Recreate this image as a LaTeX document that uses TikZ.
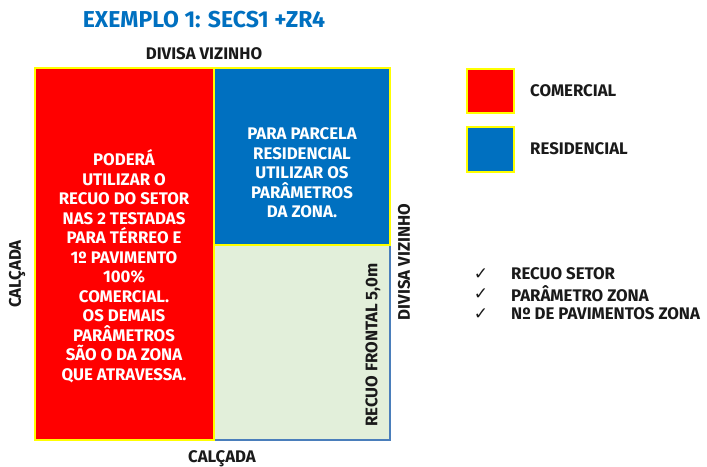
\documentclass[tikz,border=0pt]{standalone}
\usepackage{fontspec}
\setmainfont{Fira Sans}
\newfontfamily\symfont{DejaVu Sans}
\definecolor{cred}{RGB}{255,0,0}
\definecolor{cblue}{RGB}{0,112,192}
\definecolor{cyel}{RGB}{255,255,0}
\definecolor{cgreen}{RGB}{226,239,218}
\definecolor{cedge}{RGB}{74,126,187}
\definecolor{ctitle}{RGB}{0,112,192}
\definecolor{ctext}{RGB}{26,26,26}
\begin{document}
\begin{tikzpicture}[x=1pt,y=-1pt,
  lbl/.style={font=\fontsize{16.8}{19.5}\selectfont\bfseries, text=ctext, inner sep=0pt},
  inbox/.style={font=\fontsize{16.8}{19.5}\selectfont\bfseries, text=white, align=center, inner sep=0pt},
  zone/.style={draw=cyel, line width=2pt}]
\useasboundingbox (0,0) rectangle (707,466);
% green base
\fill[cgreen] (35,245) rectangle (390,440);
\draw[cedge, line width=2pt] (214,440) -- (390,440) -- (390,245);
% red
\draw[zone, fill=cred] (35,68) rectangle (214,440);
% blue
\draw[zone, fill=cblue] (214,68) rectangle (390,245);
% texts
\node[font=\fontsize{23}{26}\selectfont\bfseries, text=ctitle, inner sep=0pt] (title) at (204,20) {EXEMPLO 1: SECS1 +ZR4};
\node[lbl] (top) at (204,54) {DIVISA VIZINHO};
\node[lbl] (bot) at (222,459) {CALÇADA};
\node[lbl, rotate=90] (left) at (17,274) {CALÇADA};
\node[lbl, rotate=90] (right) at (404,262) {DIVISA VIZINHO};
\node[lbl, rotate=90] (recuo) at (373,345) {RECUO FRONTAL 5,0m};
\node[inbox] (redtxt) at (124,266) {PODERÁ\\UTILIZAR O\\RECUO DO SETOR\\NAS 2 TESTADAS\\PARA TÉRREO E\\1º PAVIMENTO\\100\%\\COMERCIAL.\\OS DEMAIS\\PARÂMETROS\\SÃO O DA ZONA\\QUE ATRAVESSA.};
\node[inbox] (bluetxt) at (302,173) {PARA PARCELA\\RESIDENCIAL\\UTILIZAR OS\\PARÂMETROS\\DA ZONA.};
% legend
\draw[zone, fill=cred] (467,69) rectangle (514,113);
\node[lbl, anchor=west] (lc) at (530,91) {COMERCIAL};
\draw[zone, fill=cblue] (467,127) rectangle (514,172);
\node[lbl, anchor=west] (lr) at (530,149) {RESIDENCIAL};
% check list
\foreach \yy/\tt in {274/RECUO SETOR, 294/PARÂMETRO ZONA, 314/Nº DE PAVIMENTOS ZONA}{
  \node[font=\fontsize{17}{17}\selectfont\symfont, text=ctext, inner sep=0pt] at (481,\yy) {✓};
  \node[lbl, anchor=west] at (511,\yy) {\tt};
}
\end{tikzpicture}
\end{document}
